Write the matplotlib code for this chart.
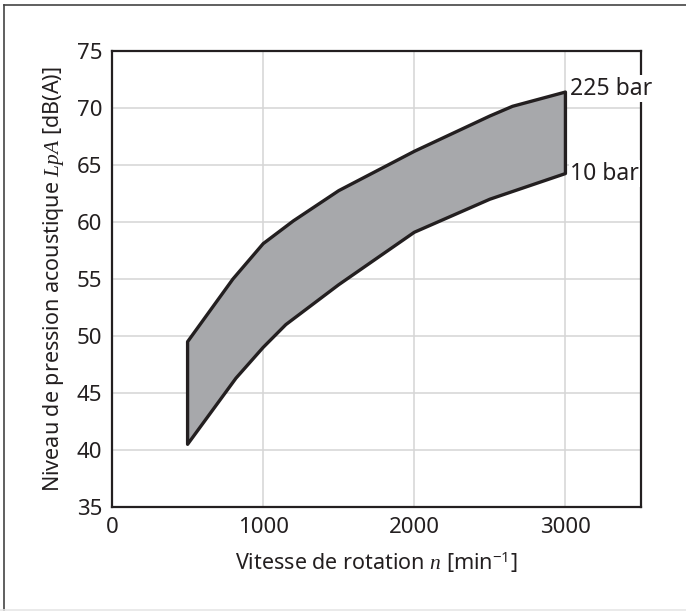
import numpy as np
import matplotlib
matplotlib.use("Agg")
import matplotlib.pyplot as plt
from matplotlib.lines import Line2D

plt.rcParams['font.family'] = ['Noto Sans', 'DejaVu Sans']
plt.rcParams['mathtext.fontset'] = 'custom'
plt.rcParams['mathtext.rm'] = 'Noto Sans'
plt.rcParams['mathtext.it'] = 'Liberation Serif:italic'

# band data
speed_hi = [500, 800, 1000, 1200, 1500, 2000, 2500, 2650, 3000]
level_hi = [49.5, 55.0, 58.1, 60.1, 62.75, 66.2, 69.3, 70.15, 71.4]   # 225 bar
speed_lo = [500, 820, 1000, 1150, 1500, 2000, 2500, 3000]
level_lo = [40.5, 46.3, 49.0, 51.0, 54.5, 59.1, 62.0, 64.25]          # 10 bar

xticks = [0, 1000, 2000, 3000]
yticks = [35, 40, 45, 50, 55, 60, 65, 70, 75]

ink = '#231f20'
fig = plt.figure(figsize=(6.86, 6.11), dpi=100)
ax = fig.add_axes([0.1633, 0.1702, 0.7711, 0.7463])

# closed polygon: upper curve forward, lower curve backward
px = speed_hi + speed_lo[::-1]
py = level_hi + level_lo[::-1]
ax.fill(px, py, facecolor='#a7a8ab', edgecolor=ink, linewidth=2.4, zorder=3, joinstyle='round')

ax.set_xlim(0, 3500)
ax.set_ylim(35, 75)
ax.set_xticks(xticks)
ax.set_yticks(yticks)
ax.grid(True, color='#d5d5d5', linewidth=1.1, zorder=1)
ax.set_axisbelow(True)
ax.tick_params(length=0, labelsize=16, colors=ink, pad=7)
for s in ax.spines.values():
    s.set_color(ink)
    s.set_linewidth(1.6)

ax.set_xlabel(r'Vitesse de rotation $n$ [min$^{-1}$]', fontsize=15.5, color=ink, labelpad=9)
ax.set_ylabel(r'Niveau de pression acoustique $LpA$ [dB(A)]', fontsize=15.5, color=ink, labelpad=8)

bb = dict(facecolor='white', edgecolor='none', pad=1)
ax.text(3030, level_hi[-1] + 0.3, '225 bar', fontsize=16.5, color=ink, va='center', ha='left', bbox=bb, zorder=5, clip_on=False)
ax.text(3030, level_lo[-1], '10 bar', fontsize=16.5, color=ink, va='center', ha='left', bbox=bb, zorder=5, clip_on=False)

# outer frame
fig.add_artist(Line2D([4/686, 4/686], [0, 1 - 5/611], transform=fig.transFigure, color='#444444', lw=1.2))
fig.add_artist(Line2D([4/686, 1], [1 - 5/611, 1 - 5/611], transform=fig.transFigure, color='#444444', lw=1.2))
fig.add_artist(Line2D([0, 1], [1.5/611, 1.5/611], transform=fig.transFigure, color='#e6e6e6', lw=1.2))

fig.savefig('out.png', dpi=100)
